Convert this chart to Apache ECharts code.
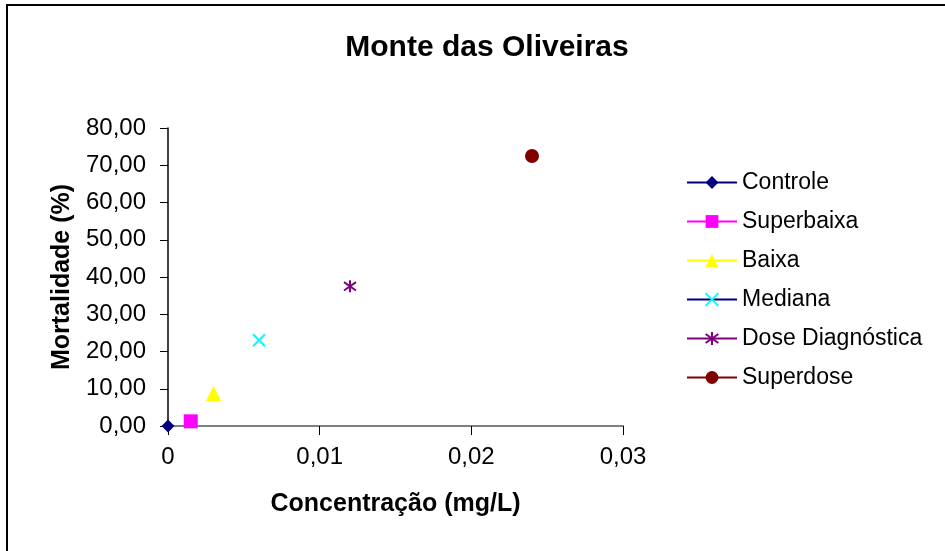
<!DOCTYPE html>
<html>
<head>
<meta charset="utf-8">
<script src="https://cdn.jsdelivr.net/npm/echarts@6/dist/echarts.min.js"></script>
<style>
  html, body { margin: 0; padding: 0; background: #fff; }
  #chart { width: 945px; height: 551px; }
</style>
</head>
<body>
<div id="chart"></div>
<script>
// dados
var seriesNames = ['Controle', 'Superbaixa', 'Baixa', 'Mediana', 'Dose Diagnóstica', 'Superdose'];
var concentracao = [0, 0.0015, 0.003, 0.006, 0.012, 0.024];
var mortalidade = [0, 1.25, 8.75, 23, 37.5, 72.5];
var markerColors = ['#000080', '#ff00ff', '#ffff00', '#00ffff', '#800080', '#800000'];
var lineColors = ['#000080', '#ff00ff', '#ffff00', '#000080', '#800080', '#800000'];
var symbols = [
  'diamond',
  'rect',
  'triangle',
  'path://M0,0L10,10M10,0L0,10',
  'path://M5,0L5,10M0,1.5L10,8.5M0,8.5L10,1.5',
  'circle'
];
var symbolSizes = [13, 14, 15, 12, 12, 14];
var xTicks = { min: 0, max: 0.03, interval: 0.01 };
var yTicks = { min: 0, max: 80, interval: 10 };

var fonte = 'Liberation Sans, Arial, sans-serif';

function virgula(v, casas) {
  if (casas === 0 && v === 0) return '0';
  return v.toFixed(casas).replace('.', ',');
}

var series = seriesNames.map(function (nome, i) {
  var isStroke = symbols[i].indexOf('path://') === 0;
  return {
    name: nome,
    type: 'line',
    data: [[concentracao[i], mortalidade[i]]],
    symbol: symbols[i],
    symbolSize: symbolSizes[i],
    showSymbol: true,
    clip: false,
    lineStyle: { color: lineColors[i], width: 2 },
    itemStyle: {
      color: markerColors[i],
      borderColor: markerColors[i],
      borderWidth: isStroke ? 2 : 0
    },
    emphasis: { disabled: true }
  };
});

var chart = echarts.init(document.getElementById('chart'));
chart.setOption({
  backgroundColor: '#fff',
  animation: false,
  title: {
    text: 'Monte das Oliveiras',
    left: 487,
    top: 33,
    padding: 0,
    textAlign: 'center',
    textStyle: { fontFamily: fonte, fontSize: 30, fontWeight: 'bold', color: '#000' }
  },
  graphic: [{
    type: 'rect',
    shape: { x: 7, y: 5, width: 1000, height: 700 },
    style: { fill: null, stroke: '#000', lineWidth: 2 },
    silent: true
  }],
  legend: {
    orient: 'vertical',
    left: 686,
    top: 171,
    itemWidth: 50,
    itemHeight: 16,
    itemGap: 16,
    padding: 0,
    data: seriesNames,
    textStyle: { fontFamily: fonte, fontSize: 23, color: '#000', lineHeight: 16 }
  },
  grid: { left: 168, right: 322, top: 128, bottom: 125 },
  xAxis: {
    type: 'value',
    min: xTicks.min,
    max: xTicks.max,
    interval: xTicks.interval,
    name: 'Concentração (mg/L)',
    nameLocation: 'middle',
    nameGap: 66,
    nameTextStyle: { fontFamily: fonte, fontSize: 25, fontWeight: 'bold', color: '#000' },
    axisLine: { show: true, onZero: false, lineStyle: { color: '#808080', width: 2 } },
    axisTick: { show: true, length: 9, lineStyle: { color: '#000', width: 1 } },
    axisLabel: {
      margin: 19,
      fontFamily: fonte, fontSize: 24, color: '#000',
      formatter: function (v) { return v === 0 ? '0' : virgula(v, 2); }
    },
    splitLine: { show: false }
  },
  yAxis: {
    type: 'value',
    min: yTicks.min,
    max: yTicks.max,
    interval: yTicks.interval,
    name: 'Mortalidade (%)',
    nameLocation: 'middle',
    nameRotate: 90,
    nameGap: 93,
    nameTextStyle: { fontFamily: fonte, fontSize: 25, fontWeight: 'bold', color: '#000' },
    axisLine: { show: true, onZero: false, lineStyle: { color: '#000', width: 1.5 } },
    axisTick: { show: true, length: 8, lineStyle: { color: '#000', width: 1 } },
    axisLabel: {
      margin: 22,
      fontFamily: fonte, fontSize: 24, color: '#000',
      formatter: function (v) { return virgula(v, 2); }
    },
    splitLine: { show: false }
  },
  tooltip: { show: false },
  series: series
});
</script>
</body>
</html>
